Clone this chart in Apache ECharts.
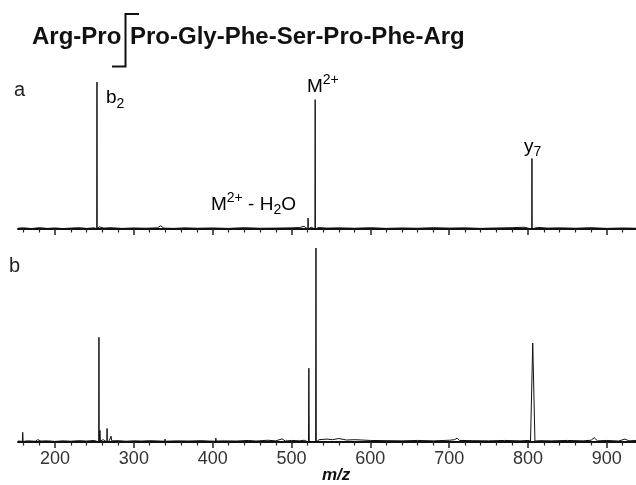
<!DOCTYPE html>
<html>
<head>
<meta charset="utf-8">
<script src="https://cdn.jsdelivr.net/npm/echarts@6/dist/echarts.min.js"></script>
<style>
html,body{margin:0;padding:0;background:#fff;}
#chart{width:636px;height:485px;}
</style>
</head>
<body>
<div id="chart"></div>
<script>
// m/z range and axis ticks
const mzMin = 153;
const mzMax = 937;
const tickLabels = [200, 300, 400, 500, 600, 700, 800, 900];
const minorTicks = [160, 180, 220, 240, 260, 280, 320, 340, 360, 380, 420, 440, 460, 480,
  520, 540, 560, 580, 620, 640, 660, 680, 720, 740, 760, 780, 820, 840, 860, 880, 920];

// Panel a: [m/z, relative intensity]
const spectrumA = [
  [153,0.5],[160,0.8],[170,0.3],[180,0.9],[190,0.4],[200,0.7],[210,0.3],[220,0.6],[230,0.9],
  [240,0.4],[250,0.8],[252.9,0],[253.2,100],[253.5,0],[256,1.5],[262,0.6],[270,0.9],[285,0.4],
  [300,0.7],[315,0.5],[330,0.8],[334,2.2],[338,0.6],[350,0.4],[365,0.8],[380,0.5],[400,0.7],
  [420,0.4],[440,0.9],[460,0.5],[480,0.6],[500,0.8],[510,1.0],[516,1.8],[520.7,0],[521,7.5],
  [521.3,0],[525,1.2],[529.7,0],[530,88],[530.3,0],[534,1.0],[545,0.6],[560,0.8],[580,0.5],
  [600,0.9],[620,0.4],[640,0.7],[660,0.5],[680,0.9],[700,0.6],[720,0.8],[740,0.4],[760,0.7],
  [780,0.9],[795,1.2],[804.7,0],[805,48],[805.3,0],[812,1.1],[825,0.6],[840,0.8],[860,0.5],
  [880,0.9],[900,0.4],[920,0.7],[937,0.5]
];

// Panel b: [m/z, relative intensity]
const spectrumB = [
  [153,0.5],[158.5,0.3],[159,5],[159.5,0.3],[165,0.6],[175,0.4],[178,1.2],[182,0.5],[190,0.6],
  [200,0.3],[210,0.6],[220,0.4],[230,0.7],[240,0.5],[250,0.8],[255.4,0],[255.7,54],[256,0],
  [257,6],[257.5,0.5],[261,1.2],[263,0.5],[265.7,0],[266,7],[266.3,0],[269,0.8],[271,3],
  [272,0.6],[280,0.7],[290,0.4],[300,0.6],[310,0.5],[320,0.7],[339,0.4],[339.5,1.5],[340,0.4],
  [355,0.6],[370,0.5],[385,0.7],[395,0.5],[403.5,0.4],[404,2],[404.5,0.5],[415,0.6],[430,0.5],
  [445,0.8],[455,0.5],[470,0.9],[480,0.6],[488,1.6],[492,0.5],[500,0.8],[510,0.6],[516,0.9],
  [521.5,0],[522,38],[522.5,0],[525,1],[530.6,0],[531,100],[531.4,0],[535,1.2],[545,1.5],
  [552,1.2],[560,1.8],[570,1.0],[580,1.2],[600,0.8],[620,0.7],[640,0.6],[660,0.8],[680,0.6],
  [700,0.9],[707,1.2],[710,2.0],[713,0.8],[730,0.7],[750,0.6],[770,0.8],[790,0.6],[800,0.8],
  [803.2,0.5],[806,51],[808.8,0.5],[815,0.7],[830,0.6],[850,0.8],[870,0.6],[880,0.9],[884,2.2],
  [888,0.6],[900,0.8],[915,0.5],[923,1.5],[928,0.6],[937,0.8]
];

const FONT = "'Liberation Sans', Arial, Helvetica, sans-serif";
const chart = echarts.init(document.getElementById('chart'), null, {renderer: 'canvas'});

function mainAxis(gridIndex, showLabels) {
  return {
    type: 'value', gridIndex: gridIndex, position: 'bottom', min: mzMin, max: mzMax,
    splitLine: {show: false},
    axisLine: {show: true, onZero: false, lineStyle: {color: '#111', width: 2}},
    axisTick: {show: true, customValues: tickLabels, length: 6, lineStyle: {color: '#222', width: 1.5}},
    axisLabel: {show: showLabels, customValues: tickLabels, fontSize: 18, color: '#333',
      fontFamily: FONT, margin: 8}
  };
}
function minorAxis(gridIndex) {
  return {
    type: 'value', gridIndex: gridIndex, position: 'bottom', min: mzMin, max: mzMax,
    splitLine: {show: false},
    axisLine: {show: false, onZero: false},
    axisTick: {show: true, customValues: minorTicks, length: 3.5, lineStyle: {color: '#222', width: 1.2}},
    axisLabel: {show: false}
  };
}

const richSub = {
  n: {fontSize: 19, fontFamily: FONT, color: '#111', lineHeight: 26, verticalAlign: 'middle'},
  sub: {fontSize: 14, fontFamily: FONT, color: '#111', lineHeight: 14, verticalAlign: 'bottom'},
  sup: {fontSize: 14, fontFamily: FONT, color: '#111', lineHeight: 14, verticalAlign: 'top'}
};

chart.setOption({
  animation: false,
  backgroundColor: '#fff',
  grid: [
    {left: 18, width: 618, top: 82, height: 147},
    {left: 18, width: 618, top: 248, height: 194}
  ],
  xAxis: [mainAxis(0, false), minorAxis(0), mainAxis(1, true), minorAxis(1)],
  yAxis: [
    {type: 'value', gridIndex: 0, min: 0, max: 100, show: false},
    {type: 'value', gridIndex: 1, min: 0, max: 100, show: false}
  ],
  series: [
    {type: 'line', xAxisIndex: 0, yAxisIndex: 0, data: spectrumA, showSymbol: false,
      lineStyle: {color: '#111', width: 1}, silent: true},
    {type: 'line', xAxisIndex: 2, yAxisIndex: 1, data: spectrumB, showSymbol: false,
      lineStyle: {color: '#111', width: 1}, silent: true}
  ],
  graphic: [
    {type: 'text', x: 32, y: 37, style: {text: 'Arg-Pro', fontSize: 24, fontWeight: 'bold',
      fontFamily: FONT, fill: '#111', verticalAlign: 'middle'}},
    {type: 'text', x: 130, y: 37, style: {text: 'Pro-Gly-Phe-Ser-Pro-Phe-Arg', fontSize: 24,
      fontWeight: 'bold', fontFamily: FONT, fill: '#111', verticalAlign: 'middle'}},
    {type: 'polyline', shape: {points: [[139, 14], [125.5, 14], [125.5, 66.5], [112, 66.5]]},
      style: {stroke: '#111', lineWidth: 2, fill: null}},
    {type: 'text', x: 14, y: 90, style: {text: 'a', fontSize: 20, fontFamily: FONT, fill: '#222',
      verticalAlign: 'middle'}},
    {type: 'text', x: 9, y: 266, style: {text: 'b', fontSize: 20, fontFamily: FONT, fill: '#222',
      verticalAlign: 'middle'}},
    {type: 'text', x: 106, y: 85, style: {text: '{n|b}{sub|2}', rich: richSub}},
    {type: 'text', x: 307, y: 73.5, style: {text: '{n|M}{sup|2+}', rich: richSub}},
    {type: 'text', x: 211, y: 191.5, style: {text: '{n|M}{sup|2+}{n| - H}{sub|2}{n|O}', rich: richSub}},
    {type: 'text', x: 524, y: 133.5, style: {text: '{n|y}{sub|7}', rich: richSub}},
    {type: 'text', x: 322, y: 475, style: {text: 'm/z', fontSize: 17, fontWeight: 'bold',
      fontStyle: 'italic', fontFamily: FONT, fill: '#111', verticalAlign: 'middle'}}
  ]
});
</script>
</body>
</html>
